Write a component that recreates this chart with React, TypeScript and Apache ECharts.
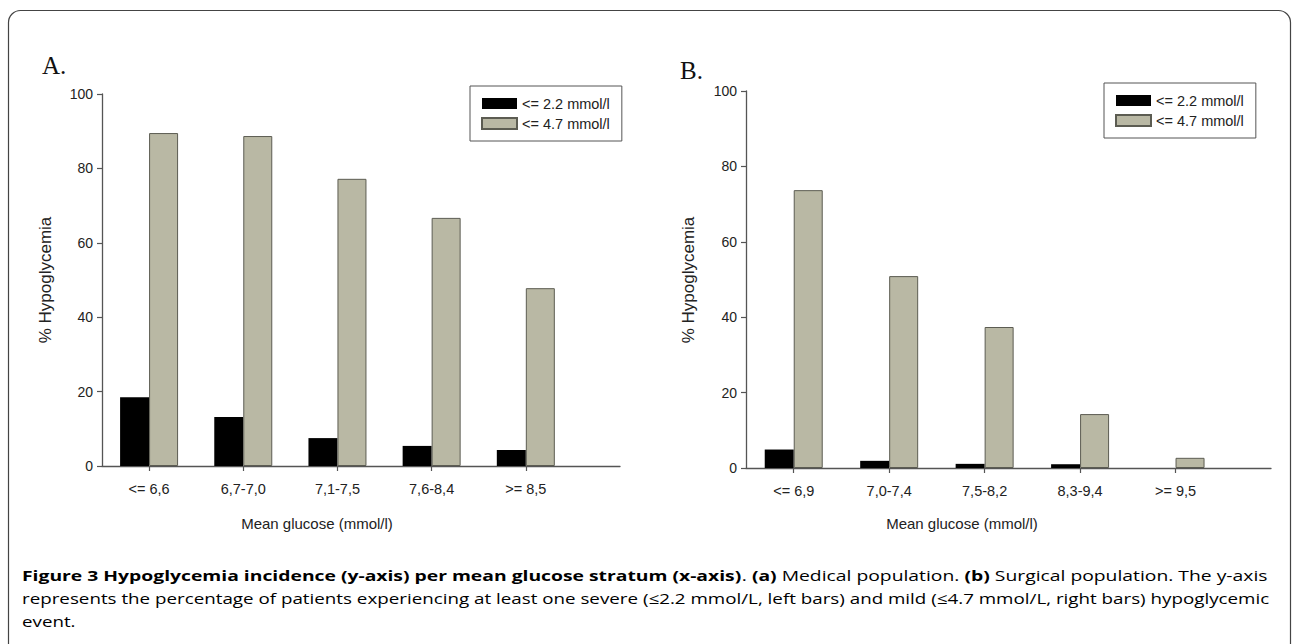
import React, { useEffect, useRef } from "react";
import * as echarts from "echarts";

// ---------- data ----------
const categoriesA = ["<= 6,6", "6,7-7,0", "7,1-7,5", "7,6-8,4", ">= 8,5"];
const severeA = [18.5, 13.2, 7.5, 5.4, 4.3];
const mildA = [89.5, 88.7, 77.2, 66.7, 47.8];

const categoriesB = ["<= 6,9", "7,0-7,4", "7,5-8,2", "8,3-9,4", ">= 9,5"];
const severeB = [4.9, 1.9, 1.1, 1.0, 0];
const mildB = [73.7, 50.9, 37.4, 14.3, 2.7];

const positions = [1, 2, 3, 4, 5];
const yTicks = [0, 20, 40, 60, 80, 100];

const severeName = "<= 2.2 mmol/l";
const mildName = "<= 4.7 mmol/l";

const FONT = "Liberation Sans, Arial, sans-serif";
const CAP_FONT = "Open Sans, Noto Sans, sans-serif";

function xAxisFor(gridIndex: number, cats: string[]) {
  return {
    type: "value" as const,
    gridIndex,
    min: 0.5,
    max: 6,
    axisLine: { show: true, onZero: false, lineStyle: { color: "#555", width: 1.3 } },
    axisTick: { show: true, customValues: positions, length: 5, lineStyle: { color: "#555", width: 1.2 } },
    axisLabel: {
      show: true,
      customValues: positions,
      formatter: (v: number) => cats[Math.round(v) - 1] ?? "",
      margin: 15,
      fontSize: 14.5,
      fontFamily: FONT,
      color: "#222",
    },
    splitLine: { show: false },
  };
}

function yAxisFor(gridIndex: number) {
  return {
    type: "value" as const,
    gridIndex,
    min: yTicks[0],
    max: yTicks[yTicks.length - 1],
    interval: 20,
    axisLine: { show: true, lineStyle: { color: "#555", width: 1.3 } },
    axisTick: { show: true, length: 5, lineStyle: { color: "#555", width: 1.2 } },
    axisLabel: { margin: 9, fontSize: 14, fontFamily: FONT, color: "#222" },
    splitLine: { show: false },
  };
}

const severeStyle = { color: "#000000", borderWidth: 0 };
const mildStyle = { color: "#b9b8a4", borderColor: "#5c5c52", borderWidth: 1 };

function barSeries(name: string, idx: number, values: number[], style: any) {
  return {
    type: "bar" as const,
    name,
    xAxisIndex: idx,
    yAxisIndex: idx,
    barWidth: 29,
    barGap: "0%",
    itemStyle: style,
    emphasis: { disabled: true },
    data: positions.map((p, i) => [p, values[i]]),
  };
}

function legendAt(left: number, top: number) {
  return {
    data: [severeName, mildName],
    orient: "vertical" as const,
    left,
    top,
    icon: "rect",
    itemWidth: 35,
    itemHeight: 11,
    itemGap: 5,
    padding: [10, 12, 10, 11],
    borderColor: "#555",
    borderWidth: 1,
    borderRadius: 0,
    selectedMode: false,
    textStyle: { fontSize: 14.5, fontFamily: FONT, color: "#222" },
  };
}

export default function App() {
  const ref = useRef<HTMLDivElement>(null);

  useEffect(() => {
    if (!ref.current) return;
    const chart = echarts.init(ref.current, null, { renderer: "svg" });

    const capY = [575, 598, 621];
    const rich = {
      b: { fontFamily: CAP_FONT, fontSize: 15, fontWeight: "bold", color: "#111" },
      r: { fontFamily: CAP_FONT, fontSize: 15, color: "#333" },
    };

    chart.setOption({
      animation: false,
      backgroundColor: "#ffffff",
      grid: [
        { left: 102, top: 94, width: 518, height: 372 },
        { left: 746, top: 91, width: 525, height: 377 },
      ],
      xAxis: [xAxisFor(0, categoriesA), xAxisFor(1, categoriesB)],
      yAxis: [yAxisFor(0), yAxisFor(1)],
      legend: [legendAt(470, 86), legendAt(1104, 83)],
      series: [
        barSeries(severeName, 0, severeA, severeStyle),
        barSeries(mildName, 0, mildA, mildStyle),
        barSeries(severeName, 1, severeB, severeStyle),
        barSeries(mildName, 1, mildB, mildStyle),
      ],
      graphic: [
        {
          type: "rect",
          shape: { x: 8.5, y: 10.5, width: 1282, height: 720, r: 12 },
          style: { fill: "none", stroke: "#444", lineWidth: 1.2 },
          silent: true,
        },
        {
          type: "text",
          x: 42,
          y: 65,
          style: { text: "A.", font: "25px Liberation Serif, serif", fill: "#111", verticalAlign: "middle" },
        },
        {
          type: "text",
          x: 680,
          y: 70,
          style: { text: "B.", font: "25px Liberation Serif, serif", fill: "#111", verticalAlign: "middle" },
        },
        {
          type: "text",
          x: 45,
          y: 280,
          rotation: Math.PI / 2,
          style: { text: "% Hypoglycemia", font: `17px ${FONT}`, fill: "#222", align: "center", verticalAlign: "middle" },
        },
        {
          type: "text",
          x: 688,
          y: 280,
          rotation: Math.PI / 2,
          style: { text: "% Hypoglycemia", font: `17px ${FONT}`, fill: "#222", align: "center", verticalAlign: "middle" },
        },
        {
          type: "text",
          x: 317,
          y: 523,
          style: { text: "Mean glucose (mmol/l)", font: `15px ${FONT}`, fill: "#222", align: "center", verticalAlign: "middle" },
        },
        {
          type: "text",
          x: 962,
          y: 523,
          style: { text: "Mean glucose (mmol/l)", font: `15px ${FONT}`, fill: "#222", align: "center", verticalAlign: "middle" },
        },
        {
          type: "text",
          x: 22,
          y: capY[0],
          scaleX: 1.288,
          style: {
            text:
              "{b|Figure 3 Hypoglycemia incidence (y-axis) per mean glucose stratum (x-axis)}{r|. }{b|(a)}{r| Medical population. }{b|(b)}{r| Surgical population. The y-axis}",
            rich,
            verticalAlign: "middle",
          },
        },
        {
          type: "text",
          x: 22,
          y: capY[1],
          scaleX: 1.252,
          style: {
            text:
              "{r|represents the percentage of patients experiencing at least one severe (≤2.2 mmol/L, left bars) and mild (≤4.7 mmol/L, right bars) hypoglycemic}",
            rich,
            verticalAlign: "middle",
          },
        },
        {
          type: "text",
          x: 22,
          y: capY[2],
          scaleX: 1.25,
          style: { text: "{r|event.}", rich, verticalAlign: "middle" },
        },
      ],
    });

    return () => chart.dispose();
  }, []);

  return (
    <div style={{ position: "absolute", left: 0, top: 0, width: 1292, height: 644, background: "#fff" }}>
      <div ref={ref} style={{ width: 1292, height: 644 }} />
    </div>
  );
}
